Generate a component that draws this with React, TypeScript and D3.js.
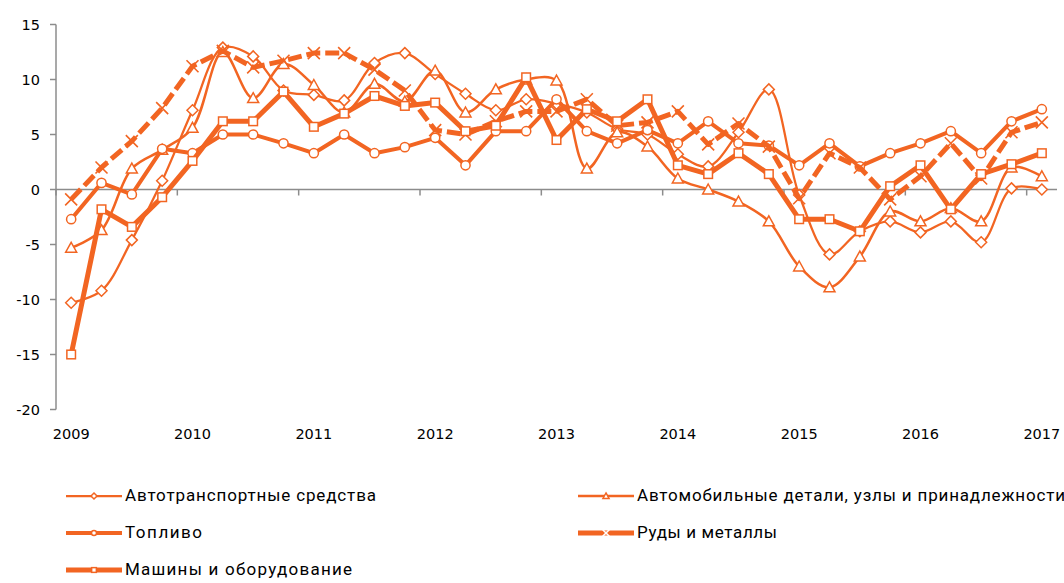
import React from 'react';
import * as d3 from 'd3';

// quarterly values, 2009Q1 .. 2017Q1
const quarters = d3.range(33);
const yearLabels = ['2009', '2010', '2011', '2012', '2013', '2014', '2015', '2016', '2017'];
const yTicks = [15, 10, 5, 0, -5, -10, -15, -20];

const vehicles = [-10.3, -9.2, -4.6, 0.8, 7.2, 12.9, 12.1, 9.0, 8.6, 8.1, 11.5, 12.4, 10.5, 8.7, 7.2, 8.2, 7.8, 7.0, 5.5, 5.0, 3.2, 2.1, 5.2, 9.1, -0.5, -5.9, -3.8, -2.9, -3.9, -2.9, -4.8, 0.1, 0.0];
const carParts = [-5.3, -3.7, 1.9, 3.6, 5.6, 12.5, 8.3, 11.4, 9.5, 7.0, 9.6, 8.0, 10.8, 7.0, 9.1, 10.0, 9.9, 1.9, 5.2, 3.9, 1.0, 0.0, -1.1, -2.9, -7.0, -8.9, -6.1, -2.0, -2.9, -1.7, -2.9, 2.0, 1.2];
const fuel = [-2.7, 0.6, -0.45, 3.7, 3.3, 5.0, 5.0, 4.2, 3.3, 5.0, 3.3, 3.85, 4.7, 2.2, 5.3, 5.3, 8.2, 5.3, 4.2, 5.4, 4.2, 6.2, 4.2, 4.0, 2.2, 4.2, 2.1, 3.3, 4.2, 5.3, 3.3, 6.2, 7.3];
const ores = [-0.9, 2.0, 4.4, 7.4, 11.2, 12.6, 11.1, 11.7, 12.4, 12.4, 10.9, 9.0, 5.4, 5.0, 6.2, 7.1, 7.1, 8.2, 5.8, 6.1, 7.1, 4.1, 6.0, 3.9, -0.8, 3.3, 2.0, -0.9, 1.2, 4.2, 1.0, 5.2, 6.1];
const machinery = [-15.0, -1.8, -3.4, -0.7, 2.6, 6.2, 6.2, 8.9, 5.7, 6.9, 8.5, 7.6, 7.9, 5.3, 5.8, 10.2, 4.5, 7.3, 6.2, 8.2, 2.2, 1.4, 3.3, 1.4, -2.7, -2.7, -3.8, 0.3, 2.2, -1.8, 1.4, 2.3, 3.3];

const ORANGE = '#F26522';
const AXIS = '#8c8c8c';

type Marker = 'diamond' | 'triangle' | 'circle' | 'x' | 'square';

interface Series {
  name: string;
  values: number[];
  marker: Marker;
  width: number;
  smooth: boolean;
  dash?: string;
}

const series: Series[] = [
  { name: 'Автотранспортные средства', values: vehicles, marker: 'diamond', width: 2.25, smooth: true },
  { name: 'Автомобильные детали, узлы и принадлежности', values: carParts, marker: 'triangle', width: 2.5, smooth: true },
  { name: 'Топливо', values: fuel, marker: 'circle', width: 4, smooth: false },
  { name: 'Руды и металлы', values: ores, marker: 'x', width: 5, smooth: false, dash: '14 5' },
  { name: 'Машины и оборудование', values: machinery, marker: 'square', width: 5, smooth: false },
];

const x = d3.scalePoint<number>().domain(quarters).range([56, 1057]).padding(0.5);
const y = d3.scaleLinear().domain([-20, 15]).range([409.5, 24.5]);
const step = x.step();

function MarkerShape({ kind, cx, cy, s = 1 }: { kind: Marker; cx: number; cy: number; s?: number }) {
  const common = { fill: '#fff', stroke: ORANGE, strokeWidth: 1.5 };
  if (kind === 'circle') return <circle cx={cx} cy={cy} r={4.6 * s} {...common} />;
  if (kind === 'square') {
    const h = 4.3 * s;
    return <rect x={cx - h} y={cy - h} width={2 * h} height={2 * h} {...common} />;
  }
  if (kind === 'diamond') {
    const h = 5.5 * s;
    return <path d={`M${cx},${cy - h}L${cx + h},${cy}L${cx},${cy + h}L${cx - h},${cy}Z`} {...common} />;
  }
  if (kind === 'triangle') {
    const h = 5.5 * s;
    return <path d={`M${cx},${cy - h}L${cx + h},${cy + h * 0.8}L${cx - h},${cy + h * 0.8}Z`} {...common} />;
  }
  const h = 6 * s;
  return (
    <path d={`M${cx - h},${cy - h}L${cx + h},${cy + h}M${cx + h},${cy - h}L${cx - h},${cy + h}`}
      stroke={s < 1 ? '#fff' : ORANGE} strokeWidth={1.6} fill="none" />
  );
}

const legendPos = [
  { lx: 66, ty: 501 },
  { lx: 578, ty: 501 },
  { lx: 66, ty: 538 },
  { lx: 578, ty: 538 },
  { lx: 66, ty: 575 },
];
const legendWidths = [251, 428, 77, 140, 227];

export default function App() {
  return (
    <svg width={1064} height={583} style={{ position: 'absolute', left: 0, top: 0, background: '#fff' }}>
      {/* y axis */}
      <line x1={56} x2={56} y1={y(15)} y2={y(-20)} stroke={AXIS} strokeWidth={1.5} />
      {yTicks.map(t => (
        <g key={t}>
          <line x1={50} x2={56} y1={y(t)} y2={y(t)} stroke={AXIS} strokeWidth={1.5} />
          <text x={40} y={y(t)} dy="0.35em" textAnchor="end" fontFamily="DejaVu Sans, sans-serif" fontSize={14.5} fill="#000">{t}</text>
        </g>
      ))}
      {/* x axis on zero */}
      <line x1={56} x2={1057} y1={y(0)} y2={y(0)} stroke={AXIS} strokeWidth={1.5} />
      {yearLabels.map((lab, k) => {
        const i = k * 4;
        const cx = x(i) as number;
        return (
          <g key={lab}>
            <line x1={cx - step / 2} x2={cx - step / 2} y1={y(0)} y2={y(0) + 6} stroke={AXIS} strokeWidth={1.5} />
            <text x={cx} y={439} textAnchor="middle" fontFamily="DejaVu Sans, sans-serif" fontSize={14.5} fill="#000">{lab}</text>
          </g>
        );
      })}

      {series.map(s => {
        const line = d3.line<number>()
          .x((_, i) => x(i) as number)
          .y(d => y(d))
          .curve(s.smooth ? d3.curveCatmullRom.alpha(0.5) : d3.curveLinear);
        return (
          <g key={s.name}>
            <path d={line(s.values) || ''} fill="none" stroke={ORANGE} strokeWidth={s.width}
              strokeDasharray={s.dash} strokeLinejoin="round" />
            {s.values.map((v, i) => (
              <MarkerShape key={i} kind={s.marker} cx={x(i) as number} cy={y(v)} />
            ))}
          </g>
        );
      })}

      {/* legend */}
      {series.map((s, k) => {
        const p = legendPos[k];
        const cy = p.ty - 5;
        return (
          <g key={s.name}>
            <line x1={p.lx} x2={p.lx + 56} y1={cy} y2={cy} stroke={ORANGE} strokeWidth={s.width} />
            <MarkerShape kind={s.marker} cx={p.lx + 28} cy={cy} s={0.55} />
            <text x={p.lx + 59} y={p.ty} fontFamily="Liberation Sans Narrow, Roboto, sans-serif" fontSize={17}
              textLength={legendWidths[k]} lengthAdjust="spacing" fill="#000">{s.name}</text>
          </g>
        );
      })}
    </svg>
  );
}
